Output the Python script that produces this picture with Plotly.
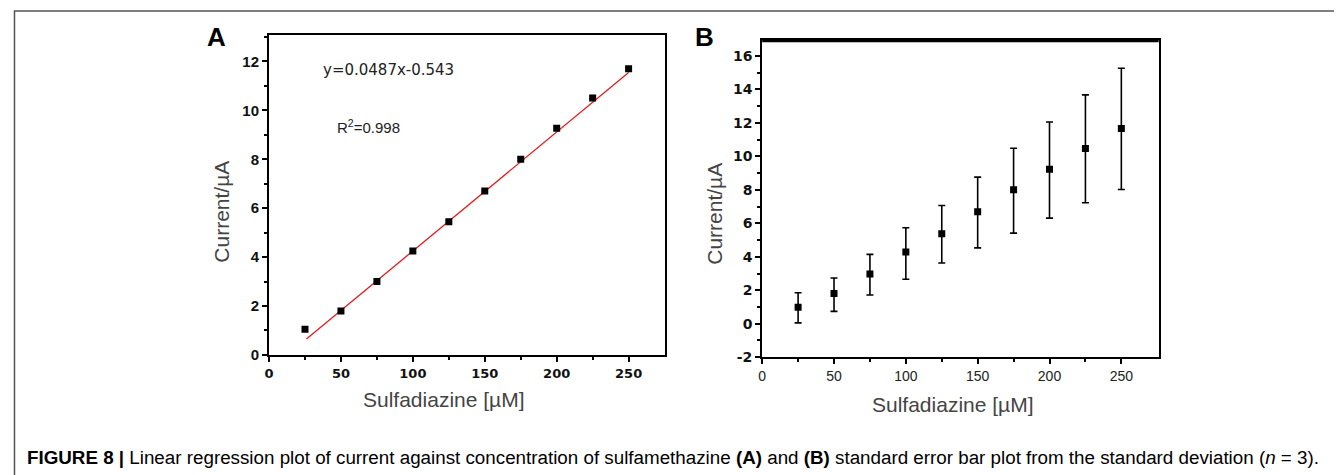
import plotly.graph_objects as go

conc = [25, 50, 75, 100, 125, 150, 175, 200, 225, 250]
current_a = [1.05, 1.8, 3.0, 4.25, 5.45, 6.7, 8.0, 9.27, 10.5, 11.7]
fit_x = [26, 250]
fit_y = [0.65, 11.55]

current_b = [0.99, 1.81, 2.97, 4.28, 5.38, 6.69, 8.0, 9.23, 10.46, 11.66]
err_plus = [0.86, 0.92, 1.17, 1.45, 1.68, 2.07, 2.48, 2.82, 3.21, 3.6]
err_minus = [0.94, 1.07, 1.25, 1.62, 1.75, 2.16, 2.59, 2.92, 3.23, 3.64]

x_ticks = [0, 50, 100, 150, 200, 250]
ya_ticks = [0, 2, 4, 6, 8, 10, 12]
yb_ticks = [-2, 0, 2, 4, 6, 8, 10, 12, 14, 16]
yb_labels = ["-2", "0", "2", "4", "6", "8", "10", "12", "14", "16"]

# page body has an 8px margin, so the figure is drawn inside it
OFF = 8
W, H = 1342 - OFF, 475 - OFF
def fx(px): return (px - OFF) / W
def fy(py): return 1 - (py - OFF) / H

fig = go.Figure()
fig.add_trace(go.Scatter(x=fit_x, y=fit_y, mode="lines", line=dict(color="#e8191c", width=1.3),
                         xaxis="x", yaxis="y", showlegend=False))
fig.add_trace(go.Scatter(x=conc, y=current_a, mode="markers",
                         marker=dict(symbol="square", size=7, color="black"),
                         xaxis="x", yaxis="y", showlegend=False))
fig.add_trace(go.Scatter(x=conc, y=current_b, mode="markers",
                         marker=dict(symbol="square", size=7, color="black"),
                         error_y=dict(type="data", symmetric=False, array=err_plus, arrayminus=err_minus,
                                      color="black", thickness=1.6, width=3.5),
                         xaxis="x2", yaxis="y2", showlegend=False))

common = dict(showgrid=False, zeroline=False, showline=True, mirror=True, linecolor="black",
              linewidth=2, ticks="outside", ticklen=5, tickwidth=2, tickcolor="black")
minor_common = dict(ticks="outside", ticklen=3, tickwidth=1.5, tickcolor="black")

fig.update_layout(
    width=W, height=H, margin=dict(l=0, r=0, t=0, b=0),
    paper_bgcolor="white", plot_bgcolor="white",
    xaxis=dict(domain=[fx(265), fx(662)], range=[0, 275], tickvals=x_ticks,
               minor=dict(tickvals=[25, 75, 125, 175, 225], **minor_common),
               tickfont=dict(family="DejaVu Sans", size=13, color="#111", weight="bold"),
               anchor="y", **common),
    yaxis=dict(domain=[fy(361), fy(35.7)], range=[0, 13.07], tickvals=ya_ticks,
               minor=dict(tickvals=[1, 3, 5, 7, 9, 11, 13], **minor_common),
               tickfont=dict(family="Arial, Liberation Sans", size=15, color="#111", weight="bold"),
               anchor="x", **common),
    xaxis2=dict(domain=[fx(760), fx(1158)], range=[0, 276], tickvals=x_ticks,
                minor=dict(tickvals=[25, 75, 125, 175, 225], **minor_common),
                tickfont=dict(family="Arial, Liberation Sans", size=14, color="#222"),
                anchor="y2", **common),
    yaxis2=dict(domain=[fy(363.3), fy(40.7)], range=[-2, 16.94], tickvals=yb_ticks, ticktext=yb_labels,
                minor=dict(tickvals=[-1, 1, 3, 5, 7, 9, 11, 13, 15], **minor_common),
                tickfont=dict(family="DejaVu Sans", size=14, color="#111", weight="bold"),
                anchor="x2", **common),
)

# thicker top border on panel B
fig.add_shape(type="line", xref="x2 domain", yref="y2 domain", x0=0, x1=1, y0=1, y1=1,
              line=dict(color="black", width=4))
# figure frame
fig.add_shape(type="rect", xref="paper", yref="paper", x0=fx(9.5), x1=1.02, y0=-0.03, y1=fy(11),
              line=dict(color="#555", width=1.5))

title_font = dict(family="Arial, Liberation Sans", size=21, color="#444")
ann = [
    dict(text="<b>A</b>", x=fx(212), y=fy(38), font=dict(family="Arial, Liberation Sans", size=26, color="black")),
    dict(text="<b>B</b>", x=fx(702), y=fy(37), font=dict(family="Arial, Liberation Sans", size=26, color="black")),
    dict(text="Sulfadiazine [µM]", x=fx(441), y=fy(406), font=title_font),
    dict(text="Sulfadiazine [µM]", x=fx(952), y=fy(411), font=title_font),
    dict(text="Current/µA", x=fx(217), y=fy(215), textangle=-90, font=title_font),
    dict(text="Current/µA", x=fx(712), y=fy(217), textangle=-90, font=title_font),
    dict(text="y=0.0487x-0.543", x=fx(385), y=fy(71), font=dict(family="DejaVu Sans", size=15, color="#222")),
    dict(text="R<sup>2</sup>=0.998", x=fx(365), y=fy(129), font=dict(family="Arial, Liberation Sans", size=15, color="#222")),
]
for a in ann:
    fig.add_annotation(xref="paper", yref="paper", showarrow=False, xanchor="center", yanchor="middle", **a)

fig.add_annotation(xref="paper", yref="paper", showarrow=False, xanchor="left", yanchor="middle",
                   x=fx(20), y=fy(465),
                   text="<b>FIGURE 8 |</b> Linear regression plot of current against concentration of sulfamethazine <b>(A)</b> and <b>(B)</b> standard error bar plot from the standard deviation (<i>n</i> = 3).",
                   font=dict(family="Arial, Liberation Sans", size=18.8, color="black"))

fig.write_html("out.html")
